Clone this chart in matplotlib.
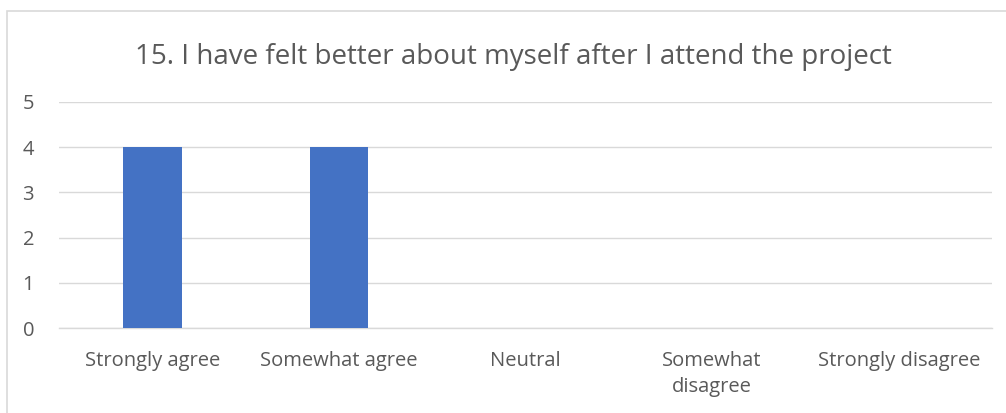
import numpy as np
import matplotlib.pyplot as plt
from matplotlib.patches import Rectangle

categories = ["Strongly agree", "Somewhat agree", "Neutral", "Somewhat\ndisagree", "Strongly disagree"]
counts = [4, 4, 0, 0, 0]
yticks = [0, 1, 2, 3, 4, 5]
title = "15. I have felt better about myself after I attend the project"

text_color = "#595959"
grid_color = "#D9D9D9"
bar_color = "#4472C4"

plt.rcParams["font.family"] = ["Open Sans", "DejaVu Sans"]

W, H = 1006, 413
fig = plt.figure(figsize=(W / 100, H / 100), dpi=100)

# chart border (right and bottom edges run past the canvas)
fig.patches.append(Rectangle((7 / W, -0.1), 1.1, (H - 10.5) / H + 0.1,
                             transform=fig.transFigure, fill=False,
                             edgecolor=grid_color, linewidth=1.2))

ax = fig.add_axes([59 / W, (H - 328) / H, (992 - 59) / W, (328 - 102) / H])
x = np.arange(len(categories))
ax.bar(x, counts, width=1 / 3.19, color=bar_color, zorder=3)

ax.set_xlim(-0.5, len(categories) - 0.5)
ax.set_ylim(0, 5)
ax.set_yticks(yticks)
ax.set_xticks(x)
ax.set_xticklabels(categories, fontsize=14.5, color=text_color, va="top", linespacing=1.38)
ax.set_yticklabels([str(t) for t in yticks], fontsize=14.5, color=text_color)
ax.tick_params(axis="both", length=0)
ax.tick_params(axis="x", pad=16.5)
ax.tick_params(axis="y", pad=18)

ax.grid(axis="y", color=grid_color, linewidth=1, zorder=0)
for side in ["top", "right", "left"]:
    ax.spines[side].set_visible(False)
ax.spines["bottom"].set_color(grid_color)
ax.spines["bottom"].set_linewidth(1)

fig.text(513 / W, (H - 57) / H, title, ha="center", va="center",
         fontsize=20, color=text_color)

fig.savefig("out.png", dpi=100)
